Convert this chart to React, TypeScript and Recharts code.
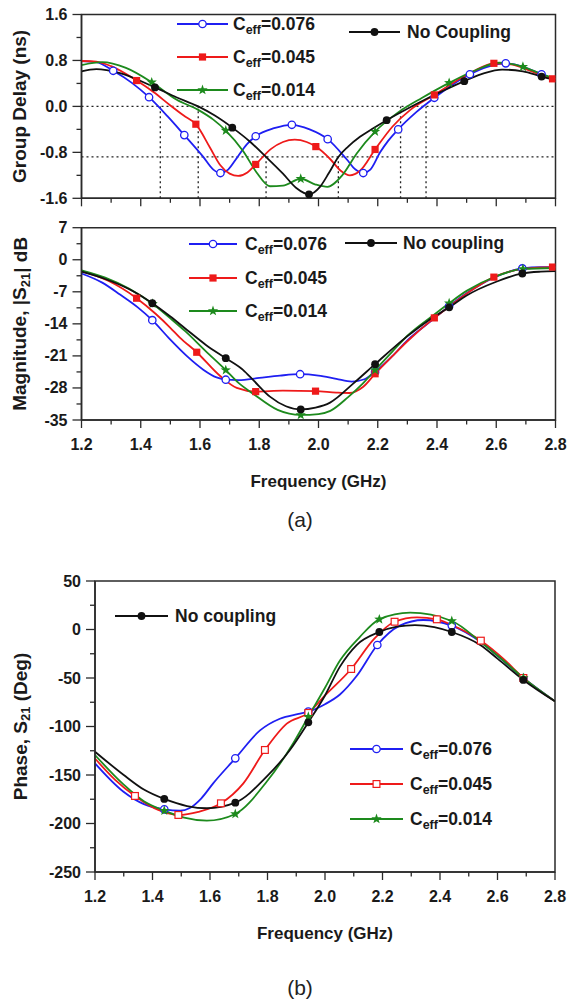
import React from 'react';
import { LineChart, Line, XAxis, YAxis, ReferenceLine, ReferenceArea, Legend } from 'recharts';

type Pt = [number, number];
type Shape = 'circle' | 'openCircle' | 'square' | 'openSquare' | 'star';

// ---- axis ticks ----
const freqTicks = [1.2, 1.3, 1.4, 1.5, 1.6, 1.7, 1.8, 1.9, 2.0, 2.1, 2.2, 2.3, 2.4, 2.5, 2.6, 2.7, 2.8];
const gdTicks = [-1.6, -1.2, -0.8, -0.4, 0, 0.4, 0.8, 1.2, 1.6];
const magTicks = [-35, -31.5, -28, -24.5, -21, -17.5, -14, -10.5, -7, -3.5, 0, 3.5, 7];
const phTicks = [-250, -225, -200, -175, -150, -125, -100, -75, -50, -25, 0, 25, 50];

// ---- group delay (ns) vs frequency (GHz) ----
const gdBlue: Pt[] = [
  [1.2, 0.79], [1.25, 0.77], [1.307, 0.62], [1.37, 0.41], [1.428, 0.16], [1.49, -0.17], [1.547, -0.5],
  [1.611, -0.88], [1.645, -1.1], [1.669, -1.16], [1.695, -1.1], [1.724, -0.9], [1.758, -0.66], [1.788, -0.52],
  [1.85, -0.38], [1.91, -0.32], [1.97, -0.4], [2.031, -0.57], [2.095, -0.92], [2.125, -1.1], [2.151, -1.16],
  [2.175, -1.1], [2.208, -0.8], [2.235, -0.6], [2.269, -0.4], [2.33, -0.1], [2.391, 0.15], [2.45, 0.37],
  [2.511, 0.56], [2.57, 0.69], [2.632, 0.75], [2.69, 0.69], [2.753, 0.56], [2.8, 0.47],
];
const gdBlueMarks = [1.307, 1.428, 1.547, 1.669, 1.788, 1.91, 2.031, 2.151, 2.269, 2.391, 2.511, 2.632, 2.753];

const gdRed: Pt[] = [
  [1.2, 0.79], [1.25, 0.78], [1.3, 0.7], [1.386, 0.45], [1.443, 0.25], [1.499, 0.02], [1.545, -0.16],
  [1.586, -0.31], [1.634, -0.72], [1.668, -1.02], [1.7, -1.17], [1.729, -1.21], [1.76, -1.15], [1.788, -1.01],
  [1.84, -0.74], [1.88, -0.62], [1.92, -0.58], [1.96, -0.62], [1.991, -0.7], [2.04, -0.92], [2.075, -1.12],
  [2.106, -1.2], [2.14, -1.12], [2.191, -0.75], [2.25, -0.35], [2.31, -0.06], [2.391, 0.2], [2.47, 0.46],
  [2.53, 0.63], [2.592, 0.75], [2.65, 0.73], [2.72, 0.61], [2.79, 0.48], [2.8, 0.47],
];
const gdRedMarks = [1.386, 1.586, 1.788, 1.991, 2.191, 2.391, 2.592, 2.79];

const gdGreen: Pt[] = [
  [1.2, 0.72], [1.27, 0.77], [1.35, 0.67], [1.437, 0.42], [1.52, 0.12], [1.594, -0.06], [1.645, -0.23],
  [1.687, -0.42], [1.746, -0.78], [1.791, -1.15], [1.836, -1.39], [1.88, -1.38], [1.94, -1.26], [1.99, -1.36],
  [2.03, -1.4], [2.08, -1.2], [2.129, -0.82], [2.191, -0.44], [2.27, -0.1], [2.35, 0.15], [2.441, 0.41],
  [2.53, 0.63], [2.61, 0.76], [2.69, 0.69], [2.75, 0.57], [2.8, 0.48],
];
const gdGreenMarks = [1.437, 1.687, 1.94, 2.191, 2.441, 2.69];

const gdBlack: Pt[] = [
  [1.2, 0.61], [1.25, 0.65], [1.33, 0.58], [1.448, 0.33], [1.52, 0.16], [1.594, 0.0], [1.65, -0.16],
  [1.709, -0.37], [1.77, -0.62], [1.823, -0.88], [1.88, -1.17], [1.925, -1.42], [1.968, -1.53], [2.005, -1.4],
  [2.035, -1.16], [2.067, -0.88], [2.1, -0.7], [2.14, -0.53], [2.185, -0.38], [2.23, -0.24], [2.3, -0.04],
  [2.36, 0.12], [2.42, 0.27], [2.492, 0.44], [2.56, 0.58], [2.62, 0.64], [2.69, 0.61], [2.753, 0.52], [2.8, 0.46],
];
const gdBlackMarks = [1.448, 1.709, 1.968, 2.23, 2.492, 2.753];

// dotted guides on the group delay plot
const gdLevels = [0, -0.88];
const gdCuts: Pt[] = [[1.466, 0], [1.594, 0], [1.823, -0.88], [2.067, -0.88], [2.277, 0], [2.363, 0]];

// ---- |S21| (dB) ----
const magBlue: Pt[] = [
  [1.2, -3.0], [1.27, -5.0], [1.33, -7.6], [1.39, -10.4], [1.439, -13.2], [1.499, -17.4], [1.555, -21.0],
  [1.611, -24.0], [1.656, -25.7], [1.687, -26.2], [1.73, -26.3], [1.8, -25.8], [1.87, -25.3], [1.938, -25.0],
  [2.0, -25.3], [2.06, -26.0], [2.112, -26.6], [2.155, -26.1], [2.191, -24.5], [2.25, -21.0], [2.3, -17.6],
  [2.391, -12.8], [2.441, -10.1], [2.5, -7.3], [2.592, -3.9], [2.688, -1.9], [2.75, -1.6], [2.8, -1.6],
];
const magBlueMarks = [1.439, 1.687, 1.938, 2.191, 2.441, 2.688];

const magRed: Pt[] = [
  [1.2, -2.5], [1.29, -4.6], [1.386, -8.4], [1.45, -11.8], [1.499, -14.8], [1.532, -17.0], [1.589, -20.2],
  [1.668, -25.4], [1.724, -28.0], [1.788, -28.8], [1.88, -28.6], [1.99, -28.7], [2.06, -29.0], [2.105, -29.1],
  [2.15, -27.8], [2.191, -24.9], [2.25, -21.0], [2.3, -17.8], [2.391, -12.7], [2.45, -9.8], [2.5, -7.4],
  [2.592, -3.8], [2.69, -2.0], [2.79, -1.6], [2.8, -1.6],
];
const magRedMarks = [1.386, 1.589, 1.788, 1.99, 2.191, 2.391, 2.592, 2.79];

const magGreen: Pt[] = [
  [1.2, -2.3], [1.28, -3.9], [1.36, -6.3], [1.44, -9.6], [1.5, -12.8], [1.55, -15.6], [1.62, -20.0],
  [1.687, -24.1], [1.73, -26.9], [1.78, -29.3], [1.862, -32.8], [1.94, -33.9], [2.0, -33.7], [2.04, -33.0],
  [2.1, -30.0], [2.15, -27.0], [2.191, -24.1], [2.25, -20.0], [2.3, -16.6], [2.39, -12.0], [2.441, -9.5],
  [2.5, -6.8], [2.6, -3.6], [2.69, -2.0], [2.8, -1.8],
];
const magGreenMarks = [1.44, 1.687, 1.94, 2.191, 2.441, 2.69];

const magBlack: Pt[] = [
  [1.2, -2.6], [1.28, -4.2], [1.36, -6.4], [1.439, -9.5], [1.5, -12.4], [1.55, -15.0], [1.62, -18.6],
  [1.687, -21.5], [1.746, -24.1], [1.78, -26.3], [1.836, -29.9], [1.89, -32.0], [1.94, -32.7], [1.99, -32.3],
  [2.039, -31.2], [2.118, -27.0], [2.191, -22.8], [2.298, -16.8], [2.37, -13.3], [2.441, -10.4], [2.5, -7.8],
  [2.6, -4.8], [2.688, -3.0], [2.75, -2.6], [2.8, -2.5],
];
const magBlackMarks = [1.439, 1.687, 1.94, 2.191, 2.441, 2.688];

// ---- phase of S21 (deg) ----
const phBlue: Pt[] = [
  [1.2, -138], [1.298, -167], [1.37, -180], [1.441, -185.4], [1.496, -186.8], [1.53, -184], [1.57, -174],
  [1.611, -158.6], [1.688, -132.8], [1.774, -104], [1.843, -92], [1.908, -87], [1.942, -84.7], [2.0, -77],
  [2.052, -67], [2.11, -48], [2.182, -16], [2.26, 4], [2.342, 9.8], [2.441, 4], [2.542, -13], [2.6, -27],
  [2.69, -50], [2.8, -74],
];
const phBlueMarks = [1.441, 1.688, 1.942, 2.182, 2.441, 2.69];

const phRed: Pt[] = [
  [1.2, -133], [1.27, -155], [1.339, -171.6], [1.42, -186], [1.49, -191.2], [1.56, -188], [1.638, -179.2],
  [1.716, -158.6], [1.791, -124.2], [1.867, -97], [1.942, -86], [2.0, -68], [2.091, -40.7], [2.17, -10],
  [2.242, 8], [2.32, 12.5], [2.389, 10.5], [2.46, 2], [2.542, -11.5], [2.62, -30], [2.69, -50], [2.8, -74],
];
const phRedMarks = [1.339, 1.49, 1.638, 1.791, 1.942, 2.091, 2.242, 2.389, 2.542, 2.69];

const phGreen: Pt[] = [
  [1.2, -129.4], [1.3, -160], [1.37, -177], [1.441, -186.8], [1.51, -194], [1.589, -197.1], [1.688, -190.2],
  [1.797, -157], [1.89, -117], [1.942, -89.9], [2.0, -60], [2.052, -32], [2.12, -8], [2.189, 10.5],
  [2.296, 17.3], [2.441, 8.8], [2.55, -15], [2.62, -32], [2.69, -50], [2.8, -74],
];
const phGreenMarks = [1.441, 1.688, 1.942, 2.189, 2.441, 2.69];

const phBlack: Pt[] = [
  [1.2, -126], [1.3, -150], [1.37, -165], [1.441, -174.7], [1.52, -182], [1.589, -184.3], [1.688, -178.5],
  [1.797, -151.7], [1.878, -124.2], [1.942, -95.7], [2.0, -68], [2.052, -38.3], [2.11, -16], [2.189, -2.6],
  [2.25, 3], [2.313, 4.6], [2.38, 2.5], [2.441, -2.6], [2.54, -16], [2.6, -30], [2.69, -52], [2.8, -74],
];
const phBlackMarks = [1.441, 1.688, 1.942, 2.189, 2.441, 2.69];

// ---- styling ----
const FONT = 'Arial, "Liberation Sans", Helvetica, sans-serif';
const AXIS = '#2a2a2a';
const BLUE = '#1f1ff2';
const RED = '#ee1a1a';
const GREEN = '#1d8a1d';
const BLACK = '#111111';

interface Series { name: string; color: string; shape: Shape; pts: Pt[]; marks: number[] }
interface LegendItem { color: string; shape: Shape; x1: number; x2: number; y: number; tx: number; text: string; sub?: string; rest?: string }

const Marker = ({ x, y, shape, color }: { x: number; y: number; shape: Shape; color: string }) => {
  if (shape === 'openCircle') return <circle cx={x} cy={y} r={3.7} fill="#fff" stroke={color} strokeWidth={1.3} />;
  if (shape === 'circle') return <circle cx={x} cy={y} r={3.9} fill={color} />;
  if (shape === 'square') return <rect x={x - 3.6} y={y - 3.6} width={7.2} height={7.2} fill={color} />;
  if (shape === 'openSquare') return <rect x={x - 3.4} y={y - 3.4} width={6.8} height={6.8} fill="#fff" stroke={color} strokeWidth={1.2} />;
  const pts: string[] = [];
  for (let i = 0; i < 10; i++) {
    const r = i % 2 === 0 ? 5.4 : 2.2;
    const a = -Math.PI / 2 + (i * Math.PI) / 5;
    pts.push(`${x + r * Math.cos(a)},${y + r * Math.sin(a)}`);
  }
  return <polygon points={pts.join(' ')} fill={color} />;
};

const toRows = (pts: Pt[]) => pts.map(([f, v]) => ({ f, v }));

const dotFor = (s: Series) => (p: any) => {
  const hit = s.marks.some((m) => Math.abs(m - p.payload.f) < 1e-6);
  if (!hit || p.cx == null) return <g key={`n${p.index}`} />;
  return (
    <g key={`m${p.index}`}>
      <Marker x={p.cx} y={p.cy} shape={s.shape} color={s.color} />
    </g>
  );
};

interface PanelProps {
  top: number;
  height: number;
  plot: { top: number; bottom: number; left: number; right: number };
  yDomain: [number, number];
  yTicks: number[];
  yMajor: (v: number) => boolean;
  yFmt: (v: number) => string;
  yTitle: React.ReactNode;
  xLabels: boolean;
  series: Series[];
  legend: LegendItem[];
  guides?: boolean;
}

const Panel = ({ top, height, plot, yDomain, yTicks, yMajor, yFmt, yTitle, xLabels, series, legend, guides }: PanelProps) => {
  const lt = plot.top - top;
  const lb = plot.bottom - top;
  const cx = (plot.left + plot.right) / 2;
  const cy = (lt + lb) / 2;

  const xTick = (p: any) => {
    const v = p.payload.value;
    const major = Math.round(v * 10) % 2 === 0;
    return (
      <g>
        <line x1={p.x} y1={p.y} x2={p.x} y2={p.y + (major ? 8 : 4.5)} stroke={AXIS} strokeWidth={1.3} />
        {xLabels && major && (
          <text x={p.x} y={p.y + 24} textAnchor="middle" dominantBaseline="central" fontFamily={FONT} fontWeight="bold" fontSize={16} fill="#1a1a1a">
            {v.toFixed(1)}
          </text>
        )}
      </g>
    );
  };

  const yTick = (p: any) => {
    const v = p.payload.value;
    const major = yMajor(v);
    return (
      <g>
        <line x1={p.x - (major ? 9 : 5)} y1={p.y} x2={p.x} y2={p.y} stroke={AXIS} strokeWidth={1.3} />
        {major && (
          <text x={p.x - 14} y={p.y} textAnchor="end" dominantBaseline="central" fontFamily={FONT} fontWeight="bold" fontSize={16} fill="#1a1a1a">
            {yFmt(v)}
          </text>
        )}
      </g>
    );
  };

  const renderLegend = () => (
    <svg width={570} height={height} style={{ position: 'absolute', left: 0, top: 0, overflow: 'visible' }}>
      {legend.map((it, i) => {
        const y = it.y - top;
        return (
          <g key={i}>
            <line x1={it.x1} y1={y} x2={it.x2} y2={y} stroke={it.color} strokeWidth={1.8} />
            <Marker x={(it.x1 + it.x2) / 2} y={y} shape={it.shape} color={it.color} />
            <text x={it.tx} y={y} dominantBaseline="central" fontFamily={FONT} fontWeight="bold" fontSize={17.5} fill="#1a1a1a">
              {it.text}
              {it.sub && (
                <tspan dy={6} fontSize={12.5}>
                  {it.sub}
                </tspan>
              )}
              {it.rest && <tspan dy={-6}>{it.rest}</tspan>}
            </text>
          </g>
        );
      })}
    </svg>
  );

  return (
    <div style={{ position: 'absolute', left: 0, top }}>
      <LineChart width={570} height={height} margin={{ top: lt, right: 570 - plot.right, bottom: 0, left: 0 }}>
        <XAxis
          dataKey="f"
          type="number"
          domain={[1.2, 2.8]}
          ticks={freqTicks}
          interval={0}
          tickSize={0}
          tickMargin={0}
          tickLine={false}
          height={height - lb}
          axisLine={{ stroke: AXIS, strokeWidth: 1.5 }}
          tick={xTick}
          allowDataOverflow
          label={
            xLabels
              ? () => (
                  <text x={cx} y={lb + 61} textAnchor="middle" dominantBaseline="central" fontFamily={FONT} fontWeight="bold" fontSize={17} fill="#1a1a1a">
                    Frequency (GHz)
                  </text>
                )
              : undefined
          }
        />
        <YAxis
          type="number"
          domain={yDomain}
          ticks={yTicks}
          interval={0}
          tickSize={0}
          tickMargin={0}
          tickLine={false}
          width={plot.left}
          axisLine={{ stroke: AXIS, strokeWidth: 1.5 }}
          tick={yTick}
          allowDataOverflow
          label={() => (
            <text x={20} y={cy} transform={`rotate(-90 20 ${cy})`} textAnchor="middle" dominantBaseline="central" fontFamily={FONT} fontWeight="bold" fontSize={19} fill="#1a1a1a">
              {yTitle}
            </text>
          )}
        />
        <ReferenceArea x1={1.2} x2={2.8} y1={yDomain[0]} y2={yDomain[1]} fill="none" stroke={AXIS} strokeWidth={1.5} ifOverflow="visible" />
        {guides &&
          gdLevels.map((lv) => <ReferenceLine key={`h${lv}`} y={lv} stroke="#222" strokeWidth={1.3} strokeDasharray="2 3" />)}
        {guides &&
          gdCuts.map(([f, lv]) => (
            <ReferenceLine
              key={`v${f}`}
              segment={[{ x: f, y: yDomain[0] }, { x: f, y: lv }]}
              stroke="#222"
              strokeWidth={1.3}
              strokeDasharray="2 3"
            />
          ))}
        {series.map((s) => (
          <Line
            key={s.name}
            name={s.name}
            data={toRows(s.pts)}
            dataKey="v"
            type="monotone"
            stroke={s.color}
            strokeWidth={1.8}
            dot={dotFor(s)}
            activeDot={false}
            isAnimationActive={false}
          />
        ))}
        <Legend
          layout="horizontal"
          verticalAlign="middle"
          content={renderLegend}
          wrapperStyle={{ left: 0, top: 0, width: 570, height }}
        />
      </LineChart>
    </div>
  );
};

const ceff = (color: string, shape: Shape, x1: number, x2: number, y: number, tx: number, val: string): LegendItem => ({
  color, shape, x1, x2, y, tx, text: 'C', sub: 'eff', rest: `=${val}`,
});

export default function App() {
  const gdSeries: Series[] = [
    { name: 'gd076', color: BLUE, shape: 'openCircle', pts: gdBlue, marks: gdBlueMarks },
    { name: 'gd045', color: RED, shape: 'square', pts: gdRed, marks: gdRedMarks },
    { name: 'gd014', color: GREEN, shape: 'star', pts: gdGreen, marks: gdGreenMarks },
    { name: 'gdNone', color: BLACK, shape: 'circle', pts: gdBlack, marks: gdBlackMarks },
  ];
  const magSeries: Series[] = [
    { name: 'm076', color: BLUE, shape: 'openCircle', pts: magBlue, marks: magBlueMarks },
    { name: 'm045', color: RED, shape: 'square', pts: magRed, marks: magRedMarks },
    { name: 'm014', color: GREEN, shape: 'star', pts: magGreen, marks: magGreenMarks },
    { name: 'mNone', color: BLACK, shape: 'circle', pts: magBlack, marks: magBlackMarks },
  ];
  const phSeries: Series[] = [
    { name: 'p076', color: BLUE, shape: 'openCircle', pts: phBlue, marks: phBlueMarks },
    { name: 'p045', color: RED, shape: 'openSquare', pts: phRed, marks: phRedMarks },
    { name: 'p014', color: GREEN, shape: 'star', pts: phGreen, marks: phGreenMarks },
    { name: 'pNone', color: BLACK, shape: 'circle', pts: phBlack, marks: phBlackMarks },
  ];

  const gdLegend: LegendItem[] = [
    ceff(BLUE, 'openCircle', 177, 228, 24, 233, '0.076'),
    ceff(RED, 'square', 177, 228, 57, 233, '0.045'),
    ceff(GREEN, 'star', 177, 228, 90, 233, '0.014'),
    { color: BLACK, shape: 'circle', x1: 349, x2: 400, y: 32, tx: 407, text: 'No Coupling' },
  ];
  const magLegend: LegendItem[] = [
    ceff(BLUE, 'openCircle', 189, 237, 244, 245, '0.076'),
    ceff(RED, 'square', 189, 237, 278, 245, '0.045'),
    ceff(GREEN, 'star', 189, 237, 311, 245, '0.014'),
    { color: BLACK, shape: 'circle', x1: 345, x2: 397, y: 243, tx: 403, text: 'No coupling' },
  ];
  const phLegend: LegendItem[] = [
    { color: BLACK, shape: 'circle', x1: 115, x2: 168, y: 616, tx: 175, text: 'No coupling' },
    ceff(BLUE, 'openCircle', 350, 403, 749, 410, '0.076'),
    ceff(RED, 'openSquare', 350, 403, 784, 410, '0.045'),
    ceff(GREEN, 'star', 350, 403, 819, 410, '0.014'),
  ];

  return (
    <div style={{ position: 'absolute', left: 0, top: 0, width: 570, height: 1007, background: '#fff', fontFamily: FONT }}>
      <Panel
        top={0}
        height={215}
        plot={{ top: 14.5, bottom: 198.3, left: 81.5, right: 555.5 }}
        yDomain={[-1.6, 1.6]}
        yTicks={gdTicks}
        yMajor={(v) => Math.abs(Math.round(v / 0.8) * 0.8 - v) < 1e-6}
        yFmt={(v) => v.toFixed(1)}
        yTitle="Group Delay (ns)"
        xLabels={false}
        series={gdSeries}
        legend={gdLegend}
        guides
      />
      <Panel
        top={215}
        height={290}
        plot={{ top: 227.7, bottom: 420, left: 81.5, right: 555.5 }}
        yDomain={[-35, 7]}
        yTicks={magTicks}
        yMajor={(v) => v % 7 === 0}
        yFmt={(v) => String(v)}
        yTitle={
          <>
            Magnitude, |S
            <tspan dy={5} fontSize={13}>21</tspan>
            <tspan dy={-5}>| dB</tspan>
          </>
        }
        xLabels
        series={magSeries}
        legend={magLegend}
      />
      <div style={{ position: 'absolute', left: 0, top: 508, width: 600, textAlign: 'center', fontSize: 21, color: '#222' }}>(a)</div>
      <Panel
        top={555}
        height={405}
        plot={{ top: 581, bottom: 872, left: 95, right: 555 }}
        yDomain={[-250, 50]}
        yTicks={phTicks}
        yMajor={(v) => v % 50 === 0}
        yFmt={(v) => String(v)}
        yTitle={
          <>
            Phase, S
            <tspan dy={5} fontSize={13}>21</tspan>
            <tspan dy={-5}> (Deg)</tspan>
          </>
        }
        xLabels
        series={phSeries}
        legend={phLegend}
      />
      <div style={{ position: 'absolute', left: 0, top: 976, width: 600, textAlign: 'center', fontSize: 21, color: '#222' }}>(b)</div>
    </div>
  );
}
